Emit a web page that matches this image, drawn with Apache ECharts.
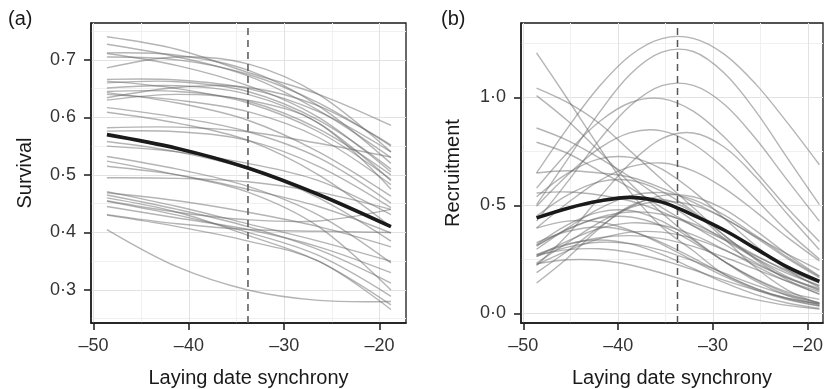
<!DOCTYPE html>
<html>
<head>
<meta charset="utf-8">
<script src="https://cdn.jsdelivr.net/npm/echarts@6/dist/echarts.min.js"></script>
<style>
  html, body { margin: 0; padding: 0; background: #fff; }
  #chart { width: 824px; height: 389px; }
</style>
</head>
<body>
<div id="chart"></div>
<script>
// ---- data ----
const X_TICKS = [-50, -40, -30, -20];
const SURV_TICKS = [0.3, 0.4, 0.5, 0.6, 0.7];
const RECR_TICKS = [0.0, 0.5, 1.0];

// axis extents of the two panels
const A_X_RANGE = [-50.27, -17.22];
const A_Y_RANGE = [0.2426, 0.764];
const B_X_RANGE = [-50.24, -18.42];
const B_Y_RANGE = [-0.0444, 1.344];

// (a) survival: curves sampled at these synchrony values
const X_A = [-48.6, -41.2, -33.8, -26.4, -18.8];
const SURV_MEAN = [0.570, 0.546, 0.512, 0.466, 0.410];
const SURV_CURVES = [
  [0.740, 0.718, 0.678, 0.640, 0.586],
  [0.727, 0.705, 0.672, 0.612, 0.530],
  [0.712, 0.708, 0.682, 0.620, 0.520],
  [0.705, 0.700, 0.675, 0.625, 0.550],
  [0.686, 0.705, 0.693, 0.640, 0.540],
  [0.711, 0.690, 0.655, 0.600, 0.505],
  [0.666, 0.665, 0.650, 0.610, 0.540],
  [0.660, 0.662, 0.645, 0.595, 0.510],
  [0.651, 0.655, 0.640, 0.590, 0.490],
  [0.645, 0.645, 0.628, 0.580, 0.500],
  [0.634, 0.652, 0.652, 0.620, 0.552],
  [0.630, 0.640, 0.630, 0.590, 0.475],
  [0.663, 0.650, 0.625, 0.575, 0.492],
  [0.643, 0.625, 0.595, 0.540, 0.463],
  [0.640, 0.630, 0.610, 0.565, 0.483],
  [0.617, 0.600, 0.575, 0.530, 0.451],
  [0.609, 0.590, 0.560, 0.500, 0.410],
  [0.582, 0.583, 0.575, 0.555, 0.531],
  [0.576, 0.575, 0.560, 0.515, 0.443],
  [0.558, 0.540, 0.510, 0.460, 0.385],
  [0.550, 0.540, 0.520, 0.490, 0.431],
  [0.532, 0.510, 0.480, 0.430, 0.347],
  [0.524, 0.500, 0.470, 0.410, 0.300],
  [0.515, 0.500, 0.475, 0.445, 0.399],
  [0.495, 0.494, 0.488, 0.470, 0.440],
  [0.471, 0.445, 0.415, 0.385, 0.350],
  [0.469, 0.455, 0.435, 0.410, 0.375],
  [0.465, 0.440, 0.410, 0.370, 0.312],
  [0.454, 0.430, 0.400, 0.360, 0.289],
  [0.445, 0.425, 0.405, 0.375, 0.330],
  [0.431, 0.415, 0.405, 0.402, 0.400],
  [0.430, 0.410, 0.385, 0.350, 0.266],
  [0.405, 0.340, 0.300, 0.282, 0.280],
  [0.455, 0.435, 0.422, 0.420, 0.440],
  [0.460, 0.435, 0.395, 0.350, 0.274]
];

// (b) recruitment
const X_B = [-48.6, -45.3, -42.0, -38.7, -35.4, -32.1, -28.8, -25.5, -22.2, -18.8];
const RECR_MEAN = [0.442, 0.487, 0.520, 0.537, 0.515, 0.455, 0.385, 0.300, 0.215, 0.148];
const RECR_CURVES = [
  [0.650, 0.860, 1.050, 1.195, 1.272, 1.273, 1.199, 1.061, 0.884, 0.688],
  [0.503, 0.715, 0.929, 1.108, 1.209, 1.212, 1.111, 0.935, 0.721, 0.503],
  [0.427, 0.611, 0.802, 0.962, 1.054, 1.055, 0.967, 0.808, 0.618, 0.427],
  [0.580, 0.746, 0.887, 0.976, 0.994, 0.936, 0.815, 0.656, 0.489, 0.333],
  [0.496, 0.642, 0.764, 0.837, 0.845, 0.784, 0.671, 0.528, 0.382, 0.252],
  [0.222, 0.365, 0.535, 0.696, 0.809, 0.835, 0.769, 0.631, 0.461, 0.295],
  [0.540, 0.649, 0.715, 0.722, 0.668, 0.566, 0.439, 0.313, 0.204, 0.119],
  [0.395, 0.512, 0.613, 0.679, 0.696, 0.660, 0.579, 0.470, 0.353, 0.243],
  [0.450, 0.549, 0.609, 0.616, 0.565, 0.473, 0.360, 0.249, 0.156, 0.088],
  [0.297, 0.396, 0.485, 0.544, 0.559, 0.527, 0.455, 0.360, 0.262, 0.171],
  [0.189, 0.290, 0.399, 0.493, 0.545, 0.540, 0.481, 0.383, 0.274, 0.173],
  [0.141, 0.258, 0.393, 0.499, 0.528, 0.467, 0.344, 0.211, 0.109, 0.045],
  [0.311, 0.391, 0.441, 0.446, 0.405, 0.329, 0.240, 0.157, 0.092, 0.048],
  [0.328, 0.380, 0.400, 0.380, 0.328, 0.256, 0.181, 0.116, 0.067, 0.035],
  [0.264, 0.307, 0.329, 0.323, 0.292, 0.243, 0.186, 0.131, 0.085, 0.050],
  [0.270, 0.295, 0.299, 0.282, 0.247, 0.202, 0.153, 0.108, 0.071, 0.043],
  [0.263, 0.336, 0.393, 0.419, 0.408, 0.363, 0.295, 0.219, 0.148, 0.090],
  [0.315, 0.389, 0.444, 0.469, 0.459, 0.415, 0.347, 0.269, 0.193, 0.126],
  [0.270, 0.318, 0.350, 0.360, 0.346, 0.310, 0.260, 0.204, 0.149, 0.100],
  [0.233, 0.328, 0.420, 0.490, 0.519, 0.501, 0.440, 0.351, 0.255, 0.166],
  [0.226, 0.291, 0.345, 0.376, 0.376, 0.347, 0.293, 0.228, 0.164, 0.106],
  [0.318, 0.411, 0.469, 0.476, 0.427, 0.339, 0.239, 0.149, 0.083, 0.039],
  [0.395, 0.427, 0.423, 0.384, 0.320, 0.244, 0.171, 0.109, 0.064, 0.034],
  [0.273, 0.322, 0.340, 0.322, 0.273, 0.208, 0.142, 0.087, 0.048, 0.023],
  [0.230, 0.248, 0.246, 0.224, 0.186, 0.142, 0.099, 0.064, 0.037, 0.020],
  [1.206, 0.990, 0.770, 0.560, 0.400, 0.290, 0.180, 0.115, 0.070, 0.045],
  [1.043, 0.975, 0.880, 0.750, 0.620, 0.490, 0.360, 0.255, 0.170, 0.110],
  [1.008, 0.890, 0.750, 0.600, 0.465, 0.345, 0.240, 0.160, 0.100, 0.065],
  [0.858, 0.800, 0.720, 0.630, 0.530, 0.430, 0.340, 0.255, 0.185, 0.130],
  [0.792, 0.740, 0.660, 0.580, 0.490, 0.405, 0.320, 0.235, 0.165, 0.115],
  [0.650, 0.660, 0.650, 0.630, 0.580, 0.515, 0.440, 0.355, 0.275, 0.200],
  [0.557, 0.562, 0.548, 0.520, 0.470, 0.405, 0.340, 0.265, 0.200, 0.140]
];

const VLINE_A = -33.8;
const VLINE_B = -33.75;

// ---- chart ----
const FONT = '"Liberation Sans", Arial, Helvetica, sans-serif';
const INK = '#1a1a1a';
const GRAY = 'rgba(105,105,105,0.5)';

const fmtX = v => String(v).replace('-', '\u2013');
const fmtY = v => v.toFixed(1).replace('.', '\u00b7');

function xAxis(gridIndex, range) {
  return {
    type: 'value', gridIndex, min: range[0], max: range[1], splitNumber: 3,
    name: 'Laying date synchrony', nameLocation: 'middle', nameGap: 45,
    nameTextStyle: { fontSize: 20, color: INK, fontFamily: FONT },
    axisLine: { show: true, onZero: false, lineStyle: { color: INK, width: 1.5 } },
    axisTick: { show: true, length: 7, customValues: X_TICKS, lineStyle: { color: INK, width: 1.5 } },
    axisLabel: { customValues: X_TICKS, margin: 14, fontSize: 18, color: '#333', fontFamily: FONT, formatter: fmtX },
    splitLine: { show: true, lineStyle: { color: '#e2e2e2', width: 1 } },
    minorTick: { show: false, splitNumber: 2 },
    minorSplitLine: { show: true, lineStyle: { color: '#f0f0f0', width: 1 } }
  };
}

function yAxis(gridIndex, range, ticks, name, nameGap, splitNumber) {
  return {
    type: 'value', gridIndex, min: range[0], max: range[1], splitNumber,
    name, nameLocation: 'middle', nameGap,
    nameTextStyle: { fontSize: 20, color: INK, fontFamily: FONT },
    axisLine: { show: true, onZero: false, lineStyle: { color: INK, width: 1.5 } },
    axisTick: { show: true, length: 7, customValues: ticks, lineStyle: { color: INK, width: 1.5 } },
    axisLabel: { customValues: ticks, margin: 15, fontSize: 18, color: '#333', fontFamily: FONT, formatter: fmtY },
    splitLine: { show: true, lineStyle: { color: '#e2e2e2', width: 1 } },
    minorTick: { show: false, splitNumber: 2 },
    minorSplitLine: { show: true, lineStyle: { color: '#f0f0f0', width: 1 } }
  };
}

// one custom series per group of curves; each data item is one curve
function curves(xs, list, idx, color, width, z) {
  return {
    type: 'custom', xAxisIndex: idx, yAxisIndex: idx, silent: true, z,
    data: list.map((c, k) => [xs[0], c[0], k]),
    encode: { x: 0, y: 1 },
    renderItem: (params, api) => {
      const c = list[api.value(2)];
      const points = xs.map((x, i) => api.coord([x, c[i]]));
      return {
        type: 'polyline',
        shape: { points, smooth: 0.35 },
        style: { stroke: color, lineWidth: width, fill: 'none' }
      };
    }
  };
}

function vline(x, yRange, idx) {
  return {
    type: 'line', xAxisIndex: idx, yAxisIndex: idx, silent: true, z: 3,
    data: [[x, yRange[0]], [x, yRange[1]]],
    showSymbol: false,
    lineStyle: { color: '#555', width: 1.5, type: [7, 5] }
  };
}

const chart = echarts.init(document.getElementById('chart'));
chart.setOption({
  animation: false,
  backgroundColor: '#fff',
  textStyle: { fontFamily: FONT },
  graphic: [
    { type: 'text', left: 8, top: 9, style: { text: '(a)', fontSize: 20, fill: INK, fontFamily: FONT } },
    { type: 'text', left: 441, top: 9, style: { text: '(b)', fontSize: 20, fill: INK, fontFamily: FONT } }
  ],
  grid: [
    { left: 91, top: 23, width: 315, height: 300, outerBoundsMode: 'none', containLabel: false,
      show: true, borderColor: INK, borderWidth: 1.3, backgroundColor: '#fff' },
    { left: 521, top: 23, width: 302, height: 300, outerBoundsMode: 'none', containLabel: false,
      show: true, borderColor: INK, borderWidth: 1.3, backgroundColor: '#fff' }
  ],
  xAxis: [xAxis(0, A_X_RANGE), xAxis(1, B_X_RANGE)],
  yAxis: [
    yAxis(0, A_Y_RANGE, SURV_TICKS, 'Survival', 56, 5),
    yAxis(1, B_Y_RANGE, RECR_TICKS, 'Recruitment', 58, 3)
  ],
  series: [
    curves(X_A, SURV_CURVES, 0, GRAY, 1.4, 2),
    vline(VLINE_A, A_Y_RANGE, 0),
    curves(X_A, [SURV_MEAN], 0, INK, 3.6, 4),
    curves(X_B, RECR_CURVES, 1, GRAY, 1.4, 2),
    vline(VLINE_B, B_Y_RANGE, 1),
    curves(X_B, [RECR_MEAN], 1, INK, 3.6, 4)
  ]
});
</script>
</body>
</html>
